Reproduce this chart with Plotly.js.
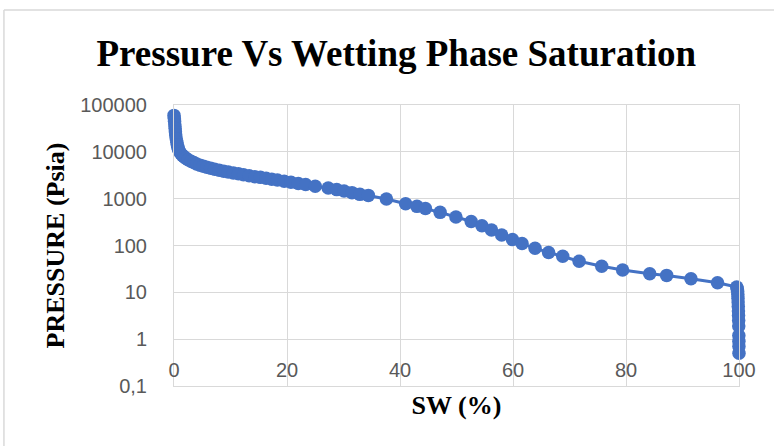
<!DOCTYPE html>
<html>
<head>
<meta charset="utf-8">
<script src="https://cdn.plot.ly/plotly-3.0.1.min.js"></script>
<style>
html,body{margin:0;padding:0;background:#fff;}
#chart{width:774px;height:446px;}
</style>
</head>
<body>
<div id="chart"></div>
<script>
// Wetting phase saturation (%)
const sw = [0, 0.05, 0.1, 0.15, 0.2, 0.25, 0.3, 0.4, 0.5, 0.6, 0.7, 0.8, 1.0, 1.2, 1.5, 1.8, 2.1, 2.5, 3.0, 3.5,
  4.0, 4.6, 5.2, 5.8, 6.5, 7.2, 8.0, 8.8, 9.6, 10.5, 11.4, 12.3, 13.3, 14.3, 15.3, 16.3, 17.3, 18.3, 19.5, 20.7,
  22.0, 23.3, 25.0, 27.3, 28.8, 30.1, 31.5, 32.9, 34.4, 37.6, 41.0, 43.0, 44.5, 47.1, 49.9, 52.6, 54.5, 56.2, 58.0,
  59.9, 61.6, 63.9, 66.3, 68.8, 71.7, 75.7, 79.4, 84.2, 87.2, 91.5, 96.2, 99.6,
  99.7, 99.75, 99.8, 99.82, 99.85, 99.87, 99.9, 99.92, 99.94, 99.96, 99.97, 99.98, 99.99, 100];
// Capillary pressure (psia)
const pressure = [60000, 52000, 45000, 38000, 32000, 27000, 23000, 19000, 16000, 14000, 12500, 11200, 10000, 9200, 8400, 7800, 7300, 6800, 6300, 5900,
  5500, 5200, 4900, 4700, 4450, 4250, 4050, 3850, 3700, 3550, 3400, 3250, 3100, 2950, 2850, 2720, 2600, 2500, 2350, 2250,
  2100, 2000, 1850, 1690, 1560, 1455, 1345, 1235, 1175, 980, 780, 685, 615, 510, 405, 327, 265, 215, 168,
  134, 110, 87, 71, 59, 46, 36, 30, 25, 23, 19.5, 16, 13,
  12, 10.5, 9, 7.5, 6.2, 5, 4, 3.2, 2.5, 1.9, 1.2, 0.9, 0.7, 0.5];

const xTicks = [0, 20, 40, 60, 80, 100];
const yTicks = [0.1, 1, 10, 100, 1000, 10000, 100000];
const yTickText = ["0,1", "1", "10", "100", "1000", "10000", "100000"];

const blue = "#4472C4";
const grid = "#d9d9d9";

const trace = {
  x: sw, y: pressure, type: "scatter", mode: "lines+markers",
  line: {color: blue, width: 3},
  marker: {color: blue, size: 13.5},
  hoverinfo: "x+y", showlegend: false, cliponaxis: false
};

const layout = {
  width: 774, height: 446,
  margin: {l: 174, r: 35, t: 105, b: 60, pad: 0},
  paper_bgcolor: "#fff", plot_bgcolor: "#fff",
  title: {
    text: "Pressure Vs Wetting Phase Saturation",
    font: {family: "Liberation Serif, Times New Roman, serif", size: 37, color: "#000", weight: "bold"},
    x: 0.512, xref: "container", xanchor: "center",
    y: 0.882, yref: "container", yanchor: "middle"
  },
  xaxis: {
    range: [0, 100], tickvals: xTicks, ticktext: xTicks.map(String),
    showgrid: true, gridcolor: grid, gridwidth: 1, zeroline: false,
    showline: true, linecolor: grid, linewidth: 1, mirror: true,
    ticks: "", ticklabelstandoff: -34,
    tickfont: {family: "Liberation Sans, Arial, sans-serif", size: 20, color: "#595959"},
    title: {text: "SW (%)", standoff: 15,
      font: {family: "Liberation Serif, Times New Roman, serif", size: 26, color: "#000", weight: "bold"}}
  },
  yaxis: {
    type: "log", range: [-1, 5], tickvals: yTicks, ticktext: yTickText,
    showgrid: true, gridcolor: grid, gridwidth: 1, zeroline: false,
    showline: true, linecolor: grid, linewidth: 1, mirror: true,
    ticks: "", ticklabelstandoff: 22,
    tickfont: {family: "Liberation Sans, Arial, sans-serif", size: 20, color: "#595959"},
    title: {text: "PRESSURE (Psia)", standoff: 8,
      font: {family: "Liberation Serif, Times New Roman, serif", size: 26, color: "#000", weight: "bold"}}
  },
  shapes: [
    {type: "line", xref: "paper", yref: "paper", x0: -0.301, x1: 1.2, y0: 1.338, y1: 1.338, line: {color: grid, width: 1.5}, layer: "below"},
    {type: "line", xref: "paper", yref: "paper", x0: -0.301, x1: -0.301, y0: 1.338, y1: -0.3, line: {color: grid, width: 1.5}, layer: "below"}
  ]
};

Plotly.newPlot("chart", [trace], layout, {displayModeBar: false, staticPlot: true});
</script>
</body>
</html>
